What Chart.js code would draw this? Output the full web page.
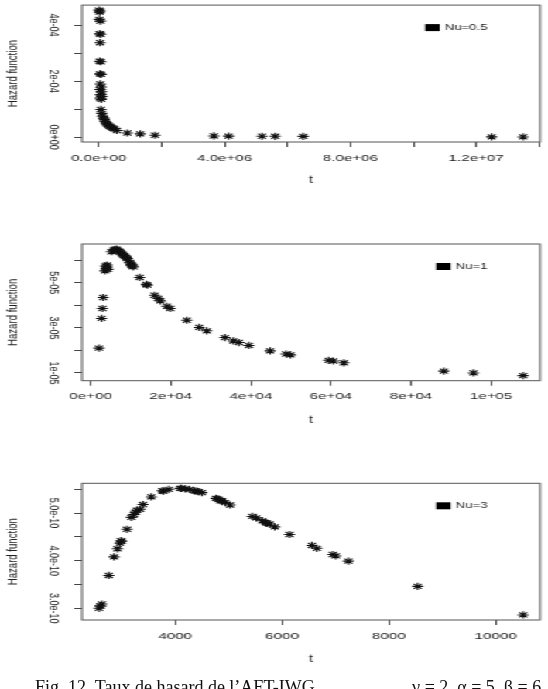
<!DOCTYPE html>
<html>
<head>
<meta charset="utf-8">
<script src="https://cdn.jsdelivr.net/npm/chart.js@4.4.1/dist/chart.umd.min.js"></script>
<style>
html,body{margin:0;padding:0;background:#fff;overflow:hidden;width:548px;height:689px;}
#wrap{position:absolute;left:0;top:0;width:354px;height:689px;transform:scaleX(1.548);transform-origin:0 0;}
.panel{position:absolute;left:0;width:354px;}
.cap{position:absolute;top:678px;font-family:'Liberation Serif','Times New Roman',serif;font-size:18px;line-height:18px;white-space:nowrap;color:#111;}
</style>
</head>
<body>
<div id="wrap">
  <div class="panel" style="top:0px;height:200px"><canvas id="c1"></canvas></div>
  <div class="panel" style="top:220px;height:210px"><canvas id="c2"></canvas></div>
  <div class="panel" style="top:470px;height:219px"><canvas id="c3"></canvas></div>
</div>
<div class="cap" style="left:35px">Fig. 12. Taux de hasard de l’AFT-IWG</div>
<div class="cap" style="left:412px">ν = 2, α = 5, β = 6</div>
<script>
// ---------- data: Nu = 0.5 ----------
const t_nu05 = [1.0e4, 4.5e4, 2.5e4, 2.0e4, 5.5e4, 3.0e4, 6.0e4, 4.5e4, 3.0e4, 6.5e4,
  4.0e4, 7.5e4, 5.0e4, 8.5e4, 3.5e4, 9.5e4, 6.0e4, 1.05e5, 4.5e4, 8.0e4,
  7.0e4, 1.0e5, 1.2e5, 1.6e5, 1.8e5, 2.1e5, 2.3e5, 2.7e5, 3.1e5, 3.5e5,
  3.9e5, 4.4e5, 4.9e5, 5.8e5, 9.1e5, 1.32e6, 1.79e6, 3.66e6, 4.13e6, 5.19e6,
  5.61e6, 6.50e6, 1.249e7, 1.349e7];
const h_nu05 = [4.53e-4, 4.50e-4, 4.46e-4, 4.20e-4, 4.14e-4, 3.69e-4, 3.67e-4, 3.37e-4, 2.71e-4, 2.69e-4,
  2.26e-4, 2.24e-4, 1.90e-4, 1.79e-4, 1.70e-4, 1.62e-4, 1.52e-4, 1.45e-4, 1.40e-4, 1.35e-4,
  0.99e-4, 0.85e-4, 0.75e-4, 0.68e-4, 0.63e-4, 0.56e-4, 0.51e-4, 0.46e-4, 0.43e-4, 0.39e-4,
  0.36e-4, 0.33e-4, 0.30e-4, 0.24e-4, 0.15e-4, 0.12e-4, 0.07e-4, 0.045e-4, 0.04e-4, 0.035e-4,
  0.033e-4, 0.028e-4, 0.012e-4, 0.010e-4];
const xTicks_nu05 = [0, 2e6, 4e6, 6e6, 8e6, 1e7, 1.2e7, 1.4e7];
const xLabels_nu05 = ['0.0e+00', '', '4.0e+06', '', '8.0e+06', '', '1.2e+07', ''];
const yTicks_nu05 = [0, 1e-4, 2e-4, 3e-4, 4e-4];
const yLabels_nu05 = ['0e+00', '', '2e-04', '', '4e-04'];

// ---------- data: Nu = 1 ----------
const t_nu1 = [2060, 2700, 2900, 3100, 3550, 3800, 3970, 4100, 3700, 4300,
  5200, 5700, 6000, 6400, 6600, 7000, 7300, 7600, 7900, 8200,
  8500, 8800, 9100, 9400, 9750, 10000, 10200, 10600, 10400, 12200,
  13900, 14100, 15950, 16800, 17400, 19000, 19850, 24000, 27100, 29000,
  33500, 35600, 37000, 39500, 44800, 48800, 49900, 59400, 60600, 63200,
  88200, 95600, 108000];
const h_nu1 = [2.10e-5, 3.42e-5, 3.86e-5, 4.35e-5, 5.53e-5, 5.62e-5, 5.71e-5, 5.79e-5, 5.75e-5, 5.60e-5,
  6.38e-5, 6.45e-5, 6.48e-5, 6.50e-5, 6.46e-5, 6.42e-5, 6.38e-5, 6.33e-5, 6.27e-5, 6.22e-5,
  6.19e-5, 6.13e-5, 6.08e-5, 6.00e-5, 5.89e-5, 5.84e-5, 5.79e-5, 5.71e-5, 5.75e-5, 5.24e-5,
  4.93e-5, 4.90e-5, 4.45e-5, 4.31e-5, 4.20e-5, 3.96e-5, 3.86e-5, 3.34e-5, 3.02e-5, 2.87e-5,
  2.57e-5, 2.42e-5, 2.35e-5, 2.22e-5, 1.98e-5, 1.84e-5, 1.80e-5, 1.56e-5, 1.53e-5, 1.45e-5,
  1.08e-5, 1.00e-5, 0.88e-5];
const xTicks_nu1 = [0, 2e4, 4e4, 6e4, 8e4, 1e5];
const xLabels_nu1 = ['0e+00', '2e+04', '4e+04', '6e+04', '8e+04', '1e+05'];
const yTicks_nu1 = [1e-5, 2e-5, 3e-5, 4e-5, 5e-5, 6e-5];
const yLabels_nu1 = ['1e-05', '', '3e-05', '', '5e-05', ''];

// ---------- data: Nu = 3 ----------
const t_nu3 = [2574, 2600, 2627, 2757, 2856, 2921, 2966, 2999, 2985, 3098,
  3181, 3228, 3260, 3280, 3345, 3397, 3553, 3758, 3780, 3881,
  4093, 4117, 4190, 4266, 4359, 4400, 4433, 4502, 4763, 4800,
  4843, 4880, 4936, 5029, 5444, 5518, 5630, 5693, 5720, 5767,
  5866, 6140, 6560, 6653, 6951, 7007, 7243, 8540, 10514];
const h_nu3 = [3.00e-10, 3.05e-10, 3.09e-10, 3.69e-10, 4.08e-10, 4.25e-10, 4.37e-10, 4.41e-10, 4.42e-10, 4.66e-10,
  4.91e-10, 4.97e-10, 5.02e-10, 5.06e-10, 5.08e-10, 5.18e-10, 5.34e-10, 5.47e-10, 5.46e-10, 5.50e-10,
  5.52e-10, 5.52e-10, 5.51e-10, 5.50e-10, 5.47e-10, 5.46e-10, 5.45e-10, 5.43e-10, 5.31e-10, 5.30e-10,
  5.26e-10, 5.26e-10, 5.22e-10, 5.17e-10, 4.93e-10, 4.90e-10, 4.84e-10, 4.80e-10, 4.79e-10, 4.77e-10,
  4.71e-10, 4.55e-10, 4.32e-10, 4.26e-10, 4.13e-10, 4.10e-10, 3.99e-10, 3.46e-10, 2.86e-10];
const xTicks_nu3 = [4000, 6000, 8000, 10000];
const xLabels_nu3 = ['4000', '6000', '8000', '10000'];
const yTicks_nu3 = [3.0e-10, 3.5e-10, 4.0e-10, 4.5e-10, 5.0e-10, 5.5e-10];
const yLabels_nu3 = ['3.0e-10', '', '4.0e-10', '', '5.0e-10', ''];

const seriesNames = ['Nu=0.5', 'Nu=1', 'Nu=3'];

// ---------- style / layout ----------
const FONT = "'Liberation Sans', Arial, Helvetica, sans-serif";
Chart.defaults.font.family = FONT;
const TEXT = '#222';
const Y_AXIS_W = 53, Y_TICK_LEN = 5, Y_LABEL_CX = 34.2;

function rRange(arr) { // R style 4% extension
  const lo = Math.min(...arr), hi = Math.max(...arr), d = (hi - lo) * 0.04;
  return [lo - d, hi + d];
}

const boxLegend = {
  id: 'boxLegend',
  afterDatasetsDraw(chart) {
    const {ctx, chartArea: a} = chart;
    ctx.save();
    ctx.strokeStyle = '#555';
    ctx.lineWidth = 1;
    ctx.strokeRect(a.left, a.top, a.right - a.left, a.bottom - a.top);
    const label = chart.data.datasets[0].label;
    ctx.font = '8.5px ' + FONT;
    ctx.textAlign = 'right';
    ctx.textBaseline = 'middle';
    const tx = a.right - 34, ty = a.top + 22.5;
    ctx.fillStyle = TEXT;
    ctx.fillText(label, tx, ty);
    const w = ctx.measureText(label).width;
    ctx.fillStyle = '#000';
    ctx.fillRect(tx - w - 3.2 - 9.4, ty - 3.5, 9.4, 7);
    ctx.restore();
  }
};

function makeTicks(values, labels) {
  return function (s) {
    const out = [];
    values.forEach((v, i) => {
      if (v >= s.min - 1e-30 && v <= s.max + 1e-30) out.push({value: v, lab: labels[i]});
    });
    s.ticks = out;
  };
}

function build(id, name, t, h, xT, xL, yT, yL, padTop, xH, titlePadB) {
  const [xmin, xmax] = rRange(t);
  const [ymin, ymax] = rRange(h);
  const yFontSize = 9;
  const m = document.createElement('canvas').getContext('2d');
  m.font = yFontSize + 'px ' + FONT;
  const widest = Math.max(...yL.map(l => m.measureText(l).width));
  const yPad = (Y_AXIS_W - Y_TICK_LEN - Y_LABEL_CX) - widest / 2;
  return new Chart(document.getElementById(id), {
    type: 'scatter',
    data: {
      datasets: [{
        label: name,
        data: t.map((v, i) => ({x: v, y: h[i]})),
        pointStyle: 'star',
        pointRadius: 3.6,
        pointBorderColor: '#111',
        pointBackgroundColor: '#111',
        pointBorderWidth: 1.1,
        borderColor: '#111',
        showLine: false
      }]
    },
    options: {
      responsive: true,
      maintainAspectRatio: false,
      animation: false,
      events: [],
      layout: {padding: {left: 0, right: 4.1, top: padTop, bottom: 0}},
      plugins: {legend: {display: false}, tooltip: {enabled: false}},
      scales: {
        x: {
          type: 'linear', position: 'bottom', min: xmin, max: xmax, bounds: 'data',
          border: {display: false},
          grid: {drawOnChartArea: false, drawTicks: true, tickLength: 5, color: '#444', lineWidth: 1},
          ticks: {
            autoSkip: false, minRotation: 0, maxRotation: 0, padding: 5.2, color: TEXT,
            font: {size: 9.8, lineHeight: 1.2},
            callback: (v, i, ticks) => ticks[i].lab
          },
          title: {display: true, text: 't', color: TEXT, font: {size: 10, lineHeight: 1.2}, padding: {top: 0, bottom: titlePadB}},
          afterBuildTicks: makeTicks(xT, xL),
          afterFit: s => { s.height = xH; s.paddingLeft = 0; s.paddingRight = 0; s.paddingTop = 0; s.paddingBottom = 0; }
        },
        y: {
          type: 'linear', position: 'left', min: ymin, max: ymax, bounds: 'data',
          border: {display: false},
          grid: {drawOnChartArea: false, drawTicks: true, tickLength: Y_TICK_LEN, color: '#444', lineWidth: 1},
          ticks: {
            autoSkip: false, minRotation: -90, maxRotation: -90, crossAlign: 'center', padding: yPad, color: TEXT,
            font: {size: yFontSize, lineHeight: 1.2},
            callback: (v, i, ticks) => ticks[i].lab
          },
          title: {display: true, text: 'Hazard function', color: TEXT, font: {size: 9.6, lineHeight: 1.2}, padding: {top: 2.84, bottom: 0}},
          afterBuildTicks: makeTicks(yT, yL),
          afterFit: s => { s.width = Y_AXIS_W; s.paddingLeft = 0; s.paddingRight = 0; s.paddingTop = 0; s.paddingBottom = 0; }
        }
      }
    },
    plugins: [boxLegend]
  });
}

build('c1', seriesNames[0], t_nu05, h_nu05, xTicks_nu05, xLabels_nu05, yTicks_nu05, yLabels_nu05, 4, 58, 14);
build('c2', seriesNames[1], t_nu1, h_nu1, xTicks_nu1, xLabels_nu1, yTicks_nu1, yLabels_nu1, 24, 49.3, 4);
build('c3', seriesNames[2], t_nu3, h_nu3, xTicks_nu3, xLabels_nu3, yTicks_nu3, yLabels_nu3, 13.3, 69, 24);
</script>
</body>
</html>
